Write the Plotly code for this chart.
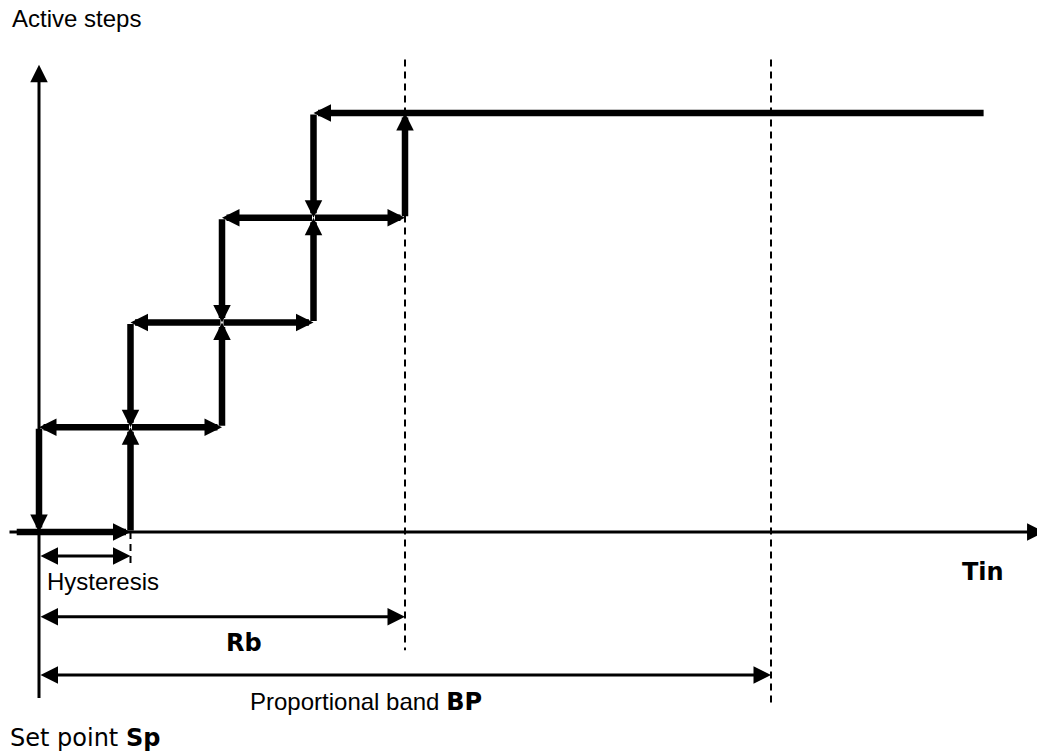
import plotly.graph_objects as go

# Tin axis: 0 = set point Sp, one unit = one hysteresis width
active_steps = [0, 1, 2, 3, 4]
cut_in = [1, 2, 3, 4]    # Tin where the next step switches on (Tin rising)
cut_out = [0, 1, 2, 3]   # Tin where that step switches off again (Tin falling)
tin_start = -0.26
tin_end = 10.34
hysteresis = 1
rb = 4
bp = 8

# axis extents (Tin units / steps)
# page body has an 8px margin, so the figure is 8px smaller than the window
x_range = [-0.3388, 10.9945]
y_range = [-2.1098, 5.0024]
y_axis_bottom = -1.6
y_axis_top = 4.46
dashed_top = 4.51

THICK = 6.5
THIN = 3
HEAD_PX = 17.5


def arrow(x0, y0, x1, y1, width, both=False):
    """Arrow annotation from (x0, y0) to (x1, y1) in data coordinates."""
    size = HEAD_PX / 5.0 / width
    return dict(
        x=x1, y=y1, ax=x0, ay=y0,
        xref="x", yref="y", axref="x", ayref="y",
        text="", showarrow=True,
        arrowhead=2, arrowsize=size, arrowwidth=width, arrowcolor="black",
        startarrowhead=2, startarrowsize=size,
        arrowside="end+start" if both else "end",
        standoff=0, startstandoff=0,
    )


def path_arrows(points, width):
    return [arrow(*points[i], *points[i + 1], width) for i in range(len(points) - 1)]


def build_paths():
    # rising Tin: step n switches on at cut_in[n]
    rising = [(tin_start, active_steps[0])]
    for i, x in enumerate(cut_in):
        rising.append((x, active_steps[i]))
        rising.append((x, active_steps[i + 1]))

    # falling Tin: step n switches off at cut_out[n]
    falling = [(tin_end, active_steps[-1])]
    for i in reversed(range(len(cut_out))):
        falling.append((cut_out[i], active_steps[i + 1]))
        falling.append((cut_out[i], active_steps[i]))
    return rising, falling


def text(x, y, s, family, xanchor="left", size=24):
    return dict(
        x=x, y=y, xref="x", yref="y", text=s, showarrow=False,
        xanchor=xanchor, yanchor="middle",
        font=dict(family=family, size=size, color="black"),
    )


def make_figure():
    fig = go.Figure()
    rising, falling = build_paths()

    annotations = []
    # axes
    annotations.append(arrow(0, y_axis_bottom, 0, y_axis_top, THIN))
    annotations.append(arrow(x_range[0], 0, x_range[1] - 0.005, 0, THIN))

    # staircase
    annotations += path_arrows(rising, THICK)
    annotations += path_arrows(falling, THICK)

    # dimension arrows
    annotations.append(arrow(0, -0.23, hysteresis, -0.23, THIN, both=True))
    annotations.append(arrow(0, -0.81, rb, -0.81, THIN, both=True))
    annotations.append(arrow(0, -1.365, bp, -1.365, THIN, both=True))

    verdana = "DejaVu Sans, Verdana, sans-serif"
    arial = "Liberation Sans, Arial, sans-serif"
    annotations += [
        text(-0.317, 4.9, "Active steps", arial),
        text(0.066, -0.47, "Hysteresis", arial),
        text(2.24, -1.06, "<b>Rb</b>", verdana, xanchor="center"),
        text(2.284, -1.625,
             "Proportional band <span style='font-family:DejaVu Sans'><b>BP</b></span>", arial),
        text(-0.3388, -1.97, "Set point <b>Sp</b>", verdana),
        text(10.317, -0.385, "<b>Tin</b>", verdana, xanchor="center"),
    ]

    # dashed guide lines at Sp + hysteresis, Rb and BP
    dash = dict(color="black", width=2, dash="7px,5px")
    shapes = [
        dict(type="line", xref="x", yref="y", x0=hysteresis, x1=hysteresis, y0=0, y1=-0.33, line=dash),
        dict(type="line", xref="x", yref="y", x0=rb, x1=rb, y0=dashed_top, y1=-1.13, line=dash),
        dict(type="line", xref="x", yref="y", x0=bp, x1=bp, y0=dashed_top, y1=-1.65, line=dash),
    ]

    fig.update_layout(
        width=1037,
        height=745,
        autosize=False,
        margin=dict(l=0, r=0, t=0, b=0, pad=0),
        paper_bgcolor="white",
        plot_bgcolor="white",
        showlegend=False,
        hovermode=False,
        xaxis=dict(range=x_range, visible=False, fixedrange=True),
        yaxis=dict(range=y_range, visible=False, fixedrange=True),
        annotations=annotations,
        shapes=shapes,
    )
    return fig


if __name__ == "__main__":
    fig = make_figure()
    fig.write_html("out.html")
